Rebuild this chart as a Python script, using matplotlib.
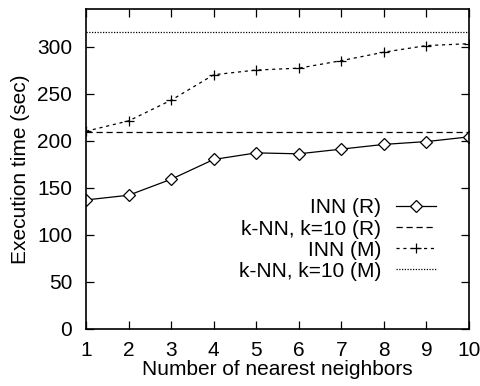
import matplotlib
matplotlib.use('Agg')
import matplotlib.pyplot as plt

plt.rcParams['font.family'] = ['Liberation Sans', 'DejaVu Sans']

# data
k = [1, 2, 3, 4, 5, 6, 7, 8, 9, 10]
inn_r = [137, 142, 159, 180, 187, 186, 191, 196, 199, 204]
inn_m = [210, 221, 243, 270, 275, 277, 285, 294, 301, 303]
knn_r = 209
knn_m = 315

fs = 15

fig = plt.figure(figsize=(4.81, 3.86), dpi=100)
ax = fig.add_axes([0.179, 0.148, 0.796, 0.829])

ax.plot(k, inn_r, color='black', lw=0.9, marker='D', ms=6, mfc='white',
        mec='black', mew=0.9, label='INN (R)')
ax.axhline(knn_r, color='black', lw=0.9, ls=(0, (5, 3)), label='k-NN, k=10 (R)')
ax.plot(k, inn_m, color='black', lw=0.9, ls=(0, (2.5, 3)), marker='+', ms=7.5,
        mew=0.9, label='INN (M)')
ax.axhline(knn_m, color='black', lw=0.9, ls=(0, (1, 1.2)), label='k-NN, k=10 (M)')

ax.set_xlim(1, 10)
ax.set_ylim(0, 340)
ax.set_xticks(k)
ax.set_yticks([0, 50, 100, 150, 200, 250, 300])
ax.tick_params(direction='in', top=True, right=True, labelsize=fs, length=6,
               width=0.9)
ax.tick_params(axis='y', pad=10)
ax.tick_params(axis='x', pad=9)
for s in ax.spines.values():
    s.set_linewidth(1.2)

ax.set_xlabel('Number of nearest neighbors', fontsize=fs, labelpad=0)
ax.set_ylabel('Execution time (sec)', fontsize=fs, labelpad=5)

ax.legend(loc='upper right', bbox_to_anchor=(0.94, 0.44), frameon=False,
          markerfirst=False, fontsize=fs, handlelength=1.9,
          labelspacing=0.1, handletextpad=0.7, borderpad=0)

plt.savefig('out.png', dpi=100)
